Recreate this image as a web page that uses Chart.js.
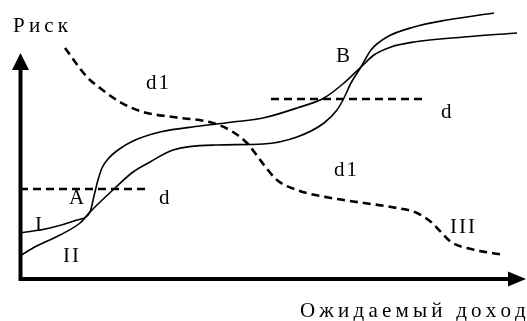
<!DOCTYPE html>
<html>
<head>
<meta charset="utf-8">
<script src="https://cdn.jsdelivr.net/npm/chart.js@4"></script>
<style>
    body { margin: 0; background: #fff; }
    canvas { display: block; }
</style>
</head>
<body>
<canvas id="riskChart" width="527" height="321"></canvas>
<script>
// Curve I (risk vs expected income)
const curveIx = [0, 30, 57, 70, 74, 78, 82, 88, 98, 113, 140, 180, 213, 243, 277, 304, 324, 341, 354, 371, 394, 444, 497];
const curveIy = [45, 50, 58, 66, 82, 98, 110, 119, 128, 137, 146, 152, 156, 160, 170, 180, 195, 211, 223, 231, 236, 241, 245];

// Curve II
const curveIIx = [0, 13, 40, 60, 70, 95, 113, 130, 153, 197, 243, 277, 304, 317, 324, 331, 341, 351, 367, 394, 427, 474];
const curveIIy = [22, 30, 43, 55, 66, 90, 106, 116, 128, 133, 134, 141, 155, 168, 180, 195, 211, 228, 241, 251, 258, 265];

// Curve III (dashed, d1)
const curveIIIx = [45, 67, 80, 100, 123, 153, 193, 213, 227, 238, 244, 257, 277, 311, 344, 377, 397, 411, 421, 431, 451, 484];
const curveIIIy = [230, 201, 190, 176, 166, 161, 155, 146, 135, 121, 113, 98, 88, 80, 75, 70, 65, 56, 46, 36, 29, 23];

// Levels d
const levelLowX = [0, 127];
const levelLowY = [89, 89];
const levelHighX = [251, 406];
const levelHighY = [179, 179];

// Labels: text, x, y (left/baseline)
const labelText = ['Риск', 'd1', 'B', 'd', 'd1', 'A', 'd', 'I', 'II', 'III', 'Ожидаемый доход'];
const labelX = [-7, 126, 316, 421, 314, 49, 139, 15, 43, 430, 280];
const labelY = [246, 189, 216, 160, 102, 74, 74, 47, 16, 45, -39];

const toPoints = (xs, ys) => xs.map((x, i) => ({ x: x, y: ys[i] }));

const solid = { borderColor: '#000', borderWidth: 1.6, pointRadius: 0, showLine: true, cubicInterpolationMode: 'monotone' };
const dashed = { borderColor: '#000', borderWidth: 2.6, borderDash: [8, 5], pointRadius: 0, showLine: true, cubicInterpolationMode: 'monotone' };

// spaced text, one char at a time
const drawSpaced = (ctx, text, x, y, spacing) => {
    for (const ch of text) {
        ctx.fillText(ch, x, y);
        x += ctx.measureText(ch).width + spacing;
    }
};

// Axes with arrows and text labels
const axesPlugin = {
    id: 'axes',
    afterDatasetsDraw(chart) {
        const ctx = chart.ctx;
        const a = chart.chartArea;
        const x0 = a.left + 0.5;
        const y0 = a.bottom + 1;
        ctx.save();
        ctx.strokeStyle = '#000';
        ctx.fillStyle = '#000';
        ctx.lineWidth = 4;
        ctx.setLineDash([]);
        ctx.beginPath();
        ctx.moveTo(x0, y0 + 2);
        ctx.lineTo(x0, 68);
        ctx.moveTo(x0 - 2, y0);
        ctx.lineTo(510, y0);
        ctx.stroke();
        ctx.beginPath();
        ctx.moveTo(x0, 53);
        ctx.lineTo(x0 - 8.5, 70);
        ctx.lineTo(x0 + 8.5, 70);
        ctx.closePath();
        ctx.fill();
        ctx.beginPath();
        ctx.moveTo(526, y0);
        ctx.lineTo(508, y0 - 7.5);
        ctx.lineTo(508, y0 + 7.5);
        ctx.closePath();
        ctx.fill();

        const xs = chart.scales.x;
        const ys = chart.scales.y;
        ctx.font = '21px "Liberation Serif", "Times New Roman", serif';
        ctx.textAlign = 'left';
        ctx.textBaseline = 'alphabetic';
        labelText.forEach((t, i) => {
            drawSpaced(ctx, t, xs.getPixelForValue(labelX[i]), ys.getPixelForValue(labelY[i]), t.length > 3 ? 4.2 : 2);
        });
        ctx.restore();
    }
};

const bgPlugin = {
    id: 'bg',
    beforeDraw(chart) {
        const ctx = chart.ctx;
        ctx.save();
        ctx.fillStyle = '#fff';
        ctx.fillRect(0, 0, chart.width, chart.height);
        ctx.restore();
    }
};

new Chart(document.getElementById('riskChart'), {
    type: 'scatter',
    data: {
        datasets: [
            { ...solid, data: toPoints(curveIx, curveIy) },
            { ...solid, data: toPoints(curveIIx, curveIIy) },
            { ...dashed, data: toPoints(curveIIIx, curveIIIy) },
            { ...dashed, data: toPoints(levelLowX, levelLowY) },
            { ...dashed, data: toPoints(levelHighX, levelHighY) }
        ]
    },
    options: {
        responsive: false,
        animation: false,
        layout: { padding: { left: 20, right: 0, top: 0, bottom: 43 } },
        plugins: { legend: { display: false }, tooltip: { enabled: false } },
        scales: {
            x: { type: 'linear', display: false, min: 0, max: 507 },
            y: { type: 'linear', display: false, min: 0, max: 278 }
        }
    },
    plugins: [bgPlugin, axesPlugin]
});
</script>
</body>
</html>
